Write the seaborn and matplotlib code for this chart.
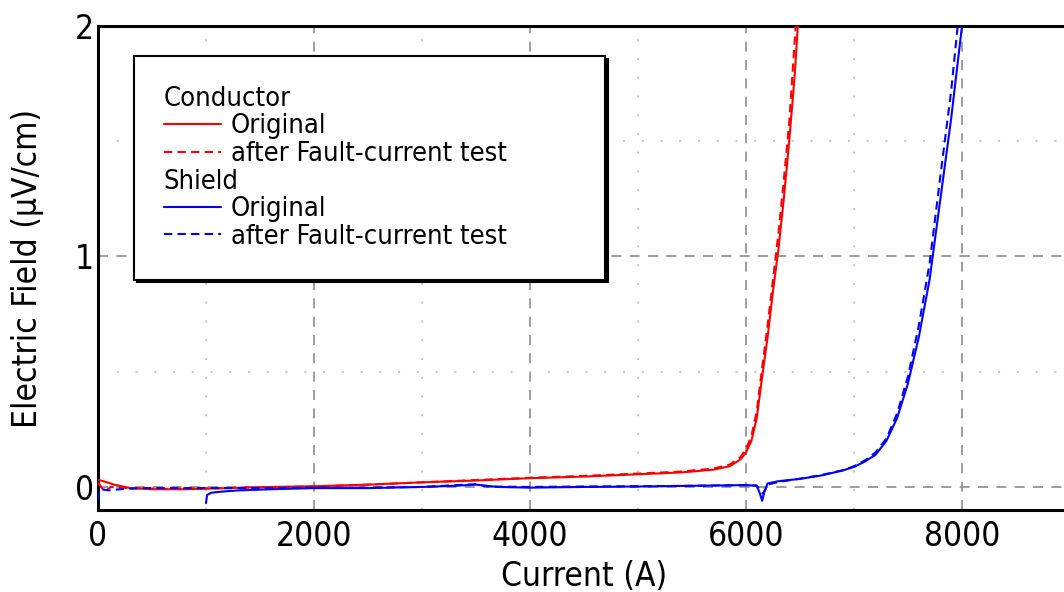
import numpy as np
import pandas as pd
import seaborn as sns
import matplotlib
matplotlib.use("Agg")
import matplotlib.pyplot as plt
from matplotlib.lines import Line2D
from matplotlib.text import Text
from matplotlib.ticker import MultipleLocator

# ---------------- data ----------------
cond_orig_I = [0, 50, 150, 300, 500, 800, 1200, 1600, 2000, 2500, 3000, 3500, 4000, 4500,
               5000, 5400, 5700, 5850, 5950, 6000, 6050, 6100, 6150, 6200, 6250, 6300,
               6350, 6400, 6450, 6480]
cond_orig_E = [0.03, 0.025, 0.01, -0.005, -0.01, -0.01, -0.005, 0.0, 0.003, 0.01, 0.02, 0.028,
               0.038, 0.045, 0.055, 0.063, 0.075, 0.09, 0.12, 0.15, 0.2, 0.3, 0.48, 0.65,
               0.85, 1.03, 1.25, 1.5, 1.78, 2.0]

cond_after_I = [0, 60, 120, 300, 600, 1000, 1500, 2000, 2500, 3000, 3500, 4000, 4500, 5000,
                5400, 5700, 5850, 5950, 6000, 6050, 6100, 6150, 6200, 6250, 6300, 6350,
                6400, 6460]
cond_after_E = [0.02, -0.02, 0.0, -0.005, -0.008, -0.006, -0.002, 0.002, 0.01, 0.02, 0.03,
                0.04, 0.048, 0.058, 0.067, 0.08, 0.097, 0.13, 0.165, 0.22, 0.33, 0.52, 0.7,
                0.9, 1.1, 1.33, 1.58, 2.0]

shield_orig_I = [1000, 1010, 1050, 1150, 1300, 1600, 2000, 2500, 3000, 3300, 3500, 3700, 4000,
                 4500, 5000, 5500, 6000, 6100, 6130, 6150, 6170, 6200, 6300, 6500, 6700, 6900,
                 7000, 7100, 7200, 7300, 7400, 7500, 7600, 7700, 7800, 7900, 8000]
shield_orig_E = [-0.07, -0.035, -0.025, -0.02, -0.015, -0.01, -0.005, -0.005, 0.0, 0.005, 0.01,
                 0.0, -0.003, 0.0, 0.002, 0.005, 0.008, 0.005, -0.03, -0.06, -0.02, 0.015,
                 0.025, 0.035, 0.05, 0.072, 0.087, 0.11, 0.14, 0.2, 0.3, 0.45, 0.65, 0.9,
                 1.25, 1.6, 2.0]

shield_after_I = [0, 10, 30, 100, 200, 400, 700, 1000, 1300, 1600, 2000, 2500, 3000, 3400,
                  3500, 3600, 4000, 4500, 5000, 5500, 6000, 6100, 6140, 6160, 6200, 6300,
                  6500, 6700, 6900, 7000, 7100, 7200, 7300, 7400, 7500, 7600, 7700, 7800,
                  7900, 7960]
shield_after_E = [-0.06, -0.02, -0.01, -0.015, -0.01, -0.005, -0.005, -0.005, -0.005, -0.005,
                  -0.003, -0.003, 0.0, 0.01, 0.012, 0.002, 0.0, 0.002, 0.003, 0.005, 0.008,
                  0.006, -0.02, -0.03, 0.01, 0.022, 0.036, 0.052, 0.073, 0.09, 0.115, 0.15,
                  0.21, 0.32, 0.48, 0.7, 0.97, 1.35, 1.72, 2.0]

legend_groups = ["Conductor", "Shield"]
legend_items = ["Original", "after Fault-current test"]
x_ticks = [0, 2000, 4000, 6000, 8000]
y_ticks = [0, 1, 2]

# ---------------- style ----------------
sns.set_style("white")
plt.rcParams["font.family"] = ["DejaVu Sans"]
plt.rcParams["font.stretch"] = "condensed"
plt.rcParams["text.color"] = "black"

fig = plt.figure(figsize=(10.64, 5.92), dpi=100)
W, H = 1064, 592
x0, x1, ytop, ybot = 98, 1070, 26, 510
ax = fig.add_axes([x0 / W, (H - ybot) / H, (x1 - x0) / W, (ybot - ytop) / H])

series = [
    (cond_orig_I, cond_orig_E, "#ff0000", "-"),
    (cond_after_I, cond_after_E, "#ff0000", (0, (4, 2.5))),
    (shield_orig_I, shield_orig_E, "#0000ff", "-"),
    (shield_after_I, shield_after_E, "#0000ff", (0, (4, 2.5))),
]
for I, E, c, ls in series:
    sns.lineplot(x=I, y=E, ax=ax, color=c, linestyle=ls, linewidth=1.5,
                 sort=False, estimator=None, zorder=3)

ax.set_xlim(0, 9000)
ax.set_ylim(-0.1, 2)
ax.set_xticks(x_ticks)
ax.set_yticks(y_ticks)
ax.xaxis.set_minor_locator(MultipleLocator(1000))
ax.yaxis.set_minor_locator(MultipleLocator(0.5))
ax.grid(which="major", color="#8c8c8c", linestyle=(0, (6, 5)), linewidth=1.2, zorder=1)
ax.grid(which="minor", color="#c8c8c8", linestyle=(0, (1, 8)), linewidth=1.5, zorder=1)
ax.set_axisbelow(True)

ax.tick_params(axis="both", which="both", length=0, labelsize=24, colors="black")
ax.tick_params(axis="y", pad=3)
ax.tick_params(axis="x", pad=7)
for s in ["left", "bottom", "top", "right"]:
    ax.spines[s].set_color("black")
    ax.spines[s].set_linewidth(2.2)

ax.set_xlabel("Current (A)", fontsize=24, labelpad=5, color="black")
ax.set_ylabel("Electric Field (\u03bcV/cm)", fontsize=24, labelpad=22, color="black")


# ---------------- legend with group headers ----------------
class HeaderHandler:
    def legend_artist(self, legend, orig_handle, fontsize, handlebox):
        t = Text(0, 0, orig_handle.get_text(), fontsize=fontsize, va="baseline",
                 ha="left", color="black")
        handlebox.add_artist(t)
        return t


handles, labels = [], []
for grp, col in zip(legend_groups, ["#ff0000", "#0000ff"]):
    handles.append(Text(0, 0, grp))
    labels.append(" ")
    for item, ls in zip(legend_items, ["-", (0, (4, 2.5))]):
        handles.append(Line2D([], [], color=col, linestyle=ls, linewidth=1.5))
        labels.append(item)

lx0, lx1 = (134 - x0) / (x1 - x0), (605 - x0) / (x1 - x0)
ly1 = (ybot - 56) / (ybot - ytop)
leg = ax.legend(handles, labels, handler_map={Text: HeaderHandler()},
                loc="upper left", bbox_to_anchor=(lx0, ly1 - 0.5, lx1 - lx0, 0.5),
                mode="expand", fontsize=19.5, handlelength=2.1, handletextpad=0.38,
                labelspacing=0.06, borderpad=1.1, borderaxespad=0, fancybox=False,
                frameon=True, labelcolor="black",
                shadow={"color": "black", "alpha": 1.0})
leg.get_frame().set_edgecolor("black")
leg.get_frame().set_linewidth(1.5)
leg.get_frame().set_facecolor("white")
leg.get_frame().set_alpha(1.0)

fig.savefig("out.png", dpi=100)
